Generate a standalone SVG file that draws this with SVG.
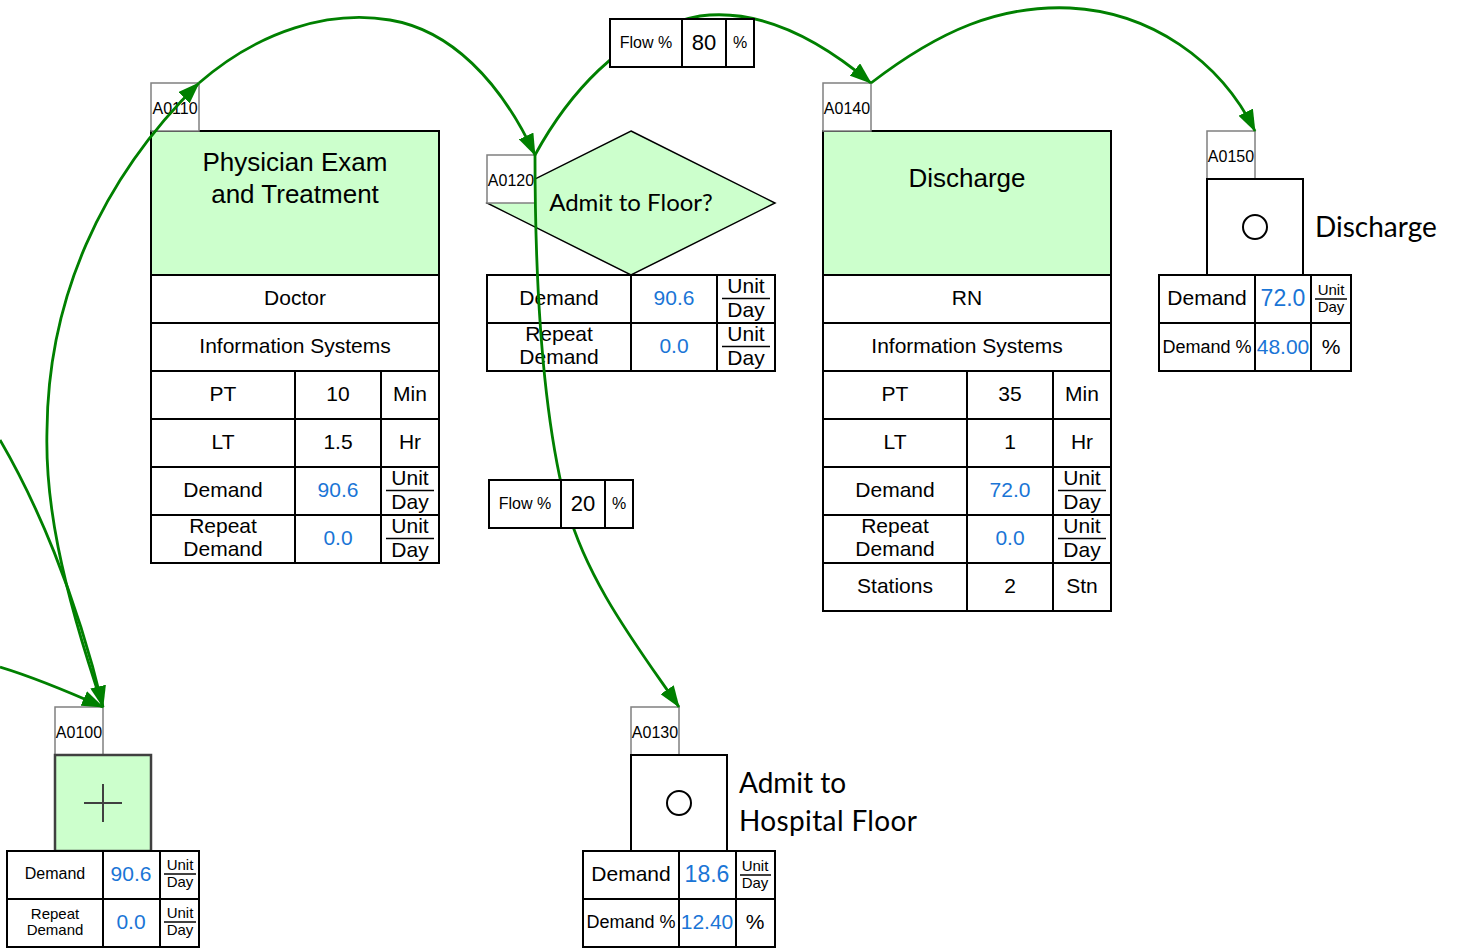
<svg xmlns="http://www.w3.org/2000/svg" width="1458" height="948" viewBox="0 0 1458 948">
<defs>
<style>
.box{fill:#fff;stroke:#000;stroke-width:2}
.grn{fill:#ccffcc;stroke:#000;stroke-width:2}
.tag{fill:#fff;stroke:#808080;stroke-width:1.5}
.ln{fill:none;stroke:#000;stroke-width:2}
.fr{fill:none;stroke:#000;stroke-width:1.5}
.t{font-family:"Liberation Sans",Arial,sans-serif;fill:#000;text-anchor:middle}
.lato{font-family:Lato,"Liberation Sans",sans-serif;fill:#000}
.b{fill:#1a75d6}
.s14{font-size:14px}.s15{font-size:15px}.s16{font-size:16px}.s18{font-size:18px}.s21{font-size:21px}.s23{font-size:23px}.s26{font-size:26px}
.conn{fill:none;stroke:#008000;stroke-width:2.8;marker-end:url(#arr)}
</style>
<marker id="arr" markerUnits="userSpaceOnUse" markerWidth="22" markerHeight="16" refX="21" refY="8" orient="auto" viewBox="0 0 22 16">
<path d="M0,0 L22,8 L0,16 z" fill="#008000"/>
</marker>
</defs>
<rect width="1458" height="948" fill="#fff"/>

<g id="A0110">
<rect class="grn" x="151" y="131" width="288" height="144"/>
<rect class="tag" x="151" y="83" width="48" height="48"/>
<text class="t s16" x="175" y="114">A0110</text>
<text class="t s26" x="295" y="171">Physician Exam</text>
<text class="t s26" x="295" y="203">and Treatment</text>
<rect class="box" x="151" y="275" width="288" height="288"/>
<path class="ln" d="M151,323H439M151,371H439M151,419H439M151,467H439M151,515H439M295,371V563M381,371V563"/>
<text class="t s21" x="295" y="305">Doctor</text>
<text class="t s21" x="295" y="353">Information Systems</text>
<text class="t s21" x="223" y="401">PT</text>
<text class="t s21" x="338" y="401">10</text>
<text class="t s21" x="410" y="401">Min</text>
<text class="t s21" x="223" y="449">LT</text>
<text class="t s21" x="338" y="449">1.5</text>
<text class="t s21" x="410" y="449">Hr</text>
<text class="t s21" x="223" y="497">Demand</text>
<text class="t s21 b" x="338" y="497">90.6</text>
<text class="t s21" x="410" y="485">Unit</text>
<path class="fr" d="M386,490.5H434"/>
<text class="t s21" x="410" y="509">Day</text>
<text class="t s21" x="223" y="533">Repeat</text>
<text class="t s21" x="223" y="556">Demand</text>
<text class="t s21 b" x="338" y="545">0.0</text>
<text class="t s21" x="410" y="533">Unit</text>
<path class="fr" d="M386,538.5H434"/>
<text class="t s21" x="410" y="557">Day</text>
</g>

<g id="A0120">
<polygon class="grn" points="631,131 775,203 631,275 487,203" style="stroke-width:1.5"/>
<rect class="tag" x="487" y="155" width="48" height="48"/>
<text class="t s16" x="511" y="186">A0120</text>
<text class="lato" x="631" y="211" text-anchor="middle" style="font-size:24px">Admit to Floor?</text>
<rect class="box" x="487" y="275" width="288" height="96"/>
<path class="ln" d="M487,323H775M631,275V371M717,275V371"/>
<text class="t s21" x="559" y="305">Demand</text>
<text class="t s21 b" x="674" y="305">90.6</text>
<text class="t s21" x="746" y="293">Unit</text>
<path class="fr" d="M722,298.5H770"/>
<text class="t s21" x="746" y="317">Day</text>
<text class="t s21" x="559" y="341">Repeat</text>
<text class="t s21" x="559" y="364">Demand</text>
<text class="t s21 b" x="674" y="353">0.0</text>
<text class="t s21" x="746" y="341">Unit</text>
<path class="fr" d="M722,346.5H770"/>
<text class="t s21" x="746" y="365">Day</text>
</g>

<g id="A0140">
<rect class="grn" x="823" y="131" width="288" height="144"/>
<rect class="tag" x="823" y="83" width="48" height="48"/>
<text class="t s16" x="847" y="114">A0140</text>
<text class="t s26" x="967" y="187">Discharge</text>
<rect class="box" x="823" y="275" width="288" height="336"/>
<path class="ln" d="M823,323H1111M823,371H1111M823,419H1111M823,467H1111M823,515H1111M823,563H1111M967,371V611M1053,371V611"/>
<text class="t s21" x="967" y="305">RN</text>
<text class="t s21" x="967" y="353">Information Systems</text>
<text class="t s21" x="895" y="401">PT</text>
<text class="t s21" x="1010" y="401">35</text>
<text class="t s21" x="1082" y="401">Min</text>
<text class="t s21" x="895" y="449">LT</text>
<text class="t s21" x="1010" y="449">1</text>
<text class="t s21" x="1082" y="449">Hr</text>
<text class="t s21" x="895" y="497">Demand</text>
<text class="t s21 b" x="1010" y="497">72.0</text>
<text class="t s21" x="1082" y="485">Unit</text>
<path class="fr" d="M1058,490.5H1106"/>
<text class="t s21" x="1082" y="509">Day</text>
<text class="t s21" x="895" y="533">Repeat</text>
<text class="t s21" x="895" y="556">Demand</text>
<text class="t s21 b" x="1010" y="545">0.0</text>
<text class="t s21" x="1082" y="533">Unit</text>
<path class="fr" d="M1058,538.5H1106"/>
<text class="t s21" x="1082" y="557">Day</text>
<text class="t s21" x="895" y="593">Stations</text>
<text class="t s21" x="1010" y="593">2</text>
<text class="t s21" x="1082" y="593">Stn</text>
</g>

<g id="A0150">
<rect class="tag" x="1207" y="131" width="48" height="48"/>
<text class="t s16" x="1231" y="162">A0150</text>
<rect class="box" x="1207" y="179" width="96" height="96"/>
<circle cx="1255" cy="227" r="12" fill="none" stroke="#000" stroke-width="2"/>
<text class="lato" x="1315" y="237" style="font-size:28px">Discharge</text>
<rect class="box" x="1159" y="275" width="192" height="96"/>
<path class="ln" d="M1159,323H1351M1255,275V371M1311,275V371"/>
<text class="t s21" x="1207" y="305">Demand</text>
<text class="t s23 b" x="1283" y="306">72.0</text>
<text class="t s15" x="1331" y="295">Unit</text>
<path class="fr" d="M1315,299H1347"/>
<text class="t s15" x="1331" y="312">Day</text>
<text class="t s18" x="1207" y="353">Demand %</text>
<text class="t s21 b" x="1283" y="354">48.00</text>
<text class="t s21" x="1331" y="354">%</text>
</g>

<g id="A0100">
<rect class="tag" x="55" y="707" width="48" height="48"/>
<text class="t s16" x="79" y="738">A0100</text>
<rect x="55" y="755" width="96" height="96" fill="#ccffcc" stroke="#404040" stroke-width="2.5"/>
<path d="M84,803H122M103,784V822" stroke="#404040" stroke-width="2" fill="none"/>
<rect class="box" x="7" y="851" width="192" height="96"/>
<path class="ln" d="M7,899H199M103,851V947M160,851V947"/>
<text class="t s16" x="55" y="879">Demand</text>
<text class="t s21 b" x="131" y="881">90.6</text>
<text class="t s15" x="180" y="870">Unit</text>
<path class="fr" d="M164,874H196"/>
<text class="t s15" x="180" y="887">Day</text>
<text class="t s15" x="55" y="919">Repeat</text>
<text class="t s15" x="55" y="935">Demand</text>
<text class="t s21 b" x="131" y="929">0.0</text>
<text class="t s15" x="180" y="918">Unit</text>
<path class="fr" d="M164,922H196"/>
<text class="t s15" x="180" y="935">Day</text>
</g>

<g id="A0130">
<rect class="tag" x="631" y="707" width="48" height="48"/>
<text class="t s16" x="655" y="738">A0130</text>
<rect class="box" x="631" y="755" width="96" height="96"/>
<circle cx="679" cy="803" r="12" fill="none" stroke="#000" stroke-width="2"/>
<text class="lato" x="739" y="793" style="font-size:28px">Admit to</text>
<text class="lato" x="739" y="831" style="font-size:28px" textLength="178">Hospital Floor</text>
<rect class="box" x="583" y="851" width="192" height="96"/>
<path class="ln" d="M583,899H775M679,851V947M736,851V947"/>
<text class="t s21" x="631" y="881">Demand</text>
<text class="t s23 b" x="707" y="882">18.6</text>
<text class="t s15" x="755" y="871">Unit</text>
<path class="fr" d="M740,875H771"/>
<text class="t s15" x="755" y="888">Day</text>
<text class="t s18" x="631" y="928">Demand %</text>
<text class="t s21 b" x="707" y="929">12.40</text>
<text class="t s21" x="755" y="929">%</text>
</g>

<g id="connectors">
<path class="conn" d="M0,440 C35,500 75,590 103,707"/>
<path class="conn" d="M0,667 C20,673 60,688 103,707"/>
<path class="conn" d="M103,707 C60,580 45,500 47,430 C48,300 100,180 199,83"/>
<path class="conn" d="M199,83 C260,30 330,10 390,20 C450,30 500,80 535,155"/>
<path class="conn" d="M535,155 C565,100 620,30 700,16 C760,8 820,40 871,83"/>
<path class="conn" d="M535,155 C535,300 545,420 565,500 C585,580 640,650 679,707"/>
<path class="conn" d="M871,83 C940,30 1000,5 1070,8 C1150,12 1220,60 1255,131"/>
</g>

<g id="flow-labels">
<g id="flow80">
<rect class="box" x="610" y="19" width="144" height="48"/>
<path class="ln" d="M682,19V67M726,19V67"/>
<text class="t s16" x="646" y="48">Flow %</text>
<text class="t" x="704" y="50" style="font-size:22px">80</text>
<text class="t s16" x="740" y="48">%</text>
</g>
<g id="flow20">
<rect class="box" x="489" y="480" width="144" height="48"/>
<path class="ln" d="M561,480V528M605,480V528"/>
<text class="t s16" x="525" y="509">Flow %</text>
<text class="t" x="583" y="511" style="font-size:22px">20</text>
<text class="t s16" x="619" y="509">%</text>
</g>
</g>
</svg>
